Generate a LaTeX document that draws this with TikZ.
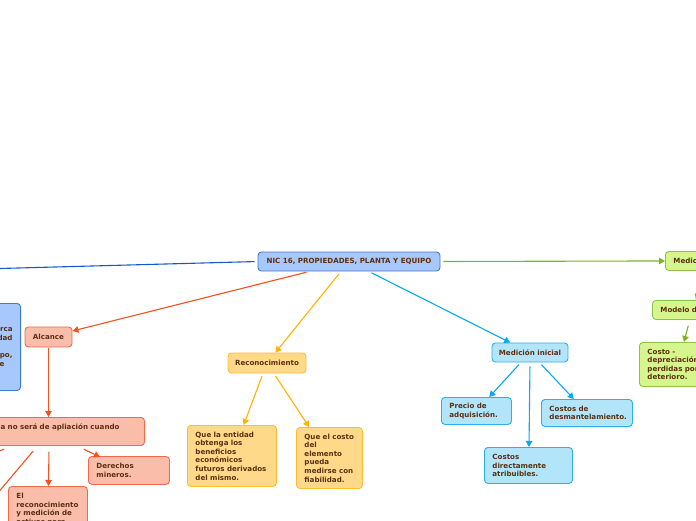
\documentclass[tikz,border=0pt]{standalone}
\usepackage{fontspec}
\setmainfont{DejaVu Sans}
\usetikzlibrary{arrows.meta,calc}
\definecolor{txt}{RGB}{92,48,16}
\definecolor{bfill}{RGB}{166,200,252}
\definecolor{bdraw}{RGB}{60,120,216}
\definecolor{bline}{RGB}{17,90,204}
\definecolor{sfill}{RGB}{249,189,170}
\definecolor{sdraw}{RGB}{243,106,75}
\definecolor{sline}{RGB}{244,81,30}
\definecolor{yfill}{RGB}{255,217,138}
\definecolor{ydraw}{RGB}{255,190,50}
\definecolor{yline}{RGB}{255,179,0}
\definecolor{cfill}{RGB}{178,228,250}
\definecolor{cdraw}{RGB}{41,176,238}
\definecolor{cline}{RGB}{3,169,244}
\definecolor{gfill}{RGB}{214,245,140}
\definecolor{gdraw}{RGB}{139,195,74}
\definecolor{gline}{RGB}{124,179,30}
\tikzset{
  mm/.style={draw, rounded corners=3.5pt, line width=0.9pt, text=txt,
    font=\fontsize{7.1}{8.6}\selectfont\bfseries, inner xsep=8pt, inner ysep=1pt},
  lft/.style={align=left, anchor=north west},
  bluebox/.style={mm, fill=bfill, draw=bdraw},
  salbox/.style={mm, fill=sfill, draw=sdraw},
  yelbox/.style={mm, fill=yfill, draw=ydraw},
  cyanbox/.style={mm, fill=cfill, draw=cdraw},
  grnbox/.style={mm, fill=gfill, draw=gdraw},
  conn/.style={line width=1.1pt, shorten <=3pt},
  arr/.style={conn, -{Triangle[length=6pt,width=6.5pt]}},
}
\begin{document}
\begin{tikzpicture}[x=1pt,y=-1pt]
\useasboundingbox (0,0) rectangle (696,520);
\clip (0,0) rectangle (696,520);

% root
\node[bluebox, minimum width=182pt, minimum height=19pt, inner xsep=0pt] (root) at (349,261.5)
  {NIC 16, PROPIEDADES, PLANTA Y EQUIPO};

% left (blue) branch
\coordinate (leftend) at (-100,271.2);
\node[bluebox, align=left, anchor=north east, text width=160pt, minimum height=87pt] (lblue) at (21,303)
  {Esta norma\hfill abarca\hspace*{4pt}\\
   la\hfill contabilidad\hspace*{5pt}\\
   de\\
   propiedad, planta y\hfill equipo,\hspace*{5pt}\\
   salvo cuando otra\hfill norma exige\hspace*{8pt}};

% salmon branch
\node[salbox, minimum width=47pt, minimum height=20pt, inner xsep=0pt] (alc) at (48.5,337) {Alcance};
\node[salbox, align=right, anchor=north east, text width=220pt, inner ysep=0pt,
      text height=11.8pt, text depth=16.2pt] (nosera) at (145,417)
  {Esta norma no será de apliación cuando\hspace*{17pt}};
\node[salbox, lft, text width=63pt, minimum height=46pt] (recmed) at (8,486)
  {El\\reconocimiento\\y medición de\\activos para};
\node[salbox, lft, text width=65pt, minimum height=28pt] (der) at (88,456)
  {Derechos\\mineros.};
\coordinate (off1) at (-60,475.7);
\coordinate (off2) at (-20,514);

% yellow branch
\node[yelbox, minimum width=78pt, minimum height=20pt, inner xsep=0pt] (recon) at (267,363) {Reconocimiento};
\node[yelbox, lft, text width=73pt, minimum height=61pt] (qle) at (187,425)
  {Que la entidad\\obtenga los\\beneficios\\económicos\\futuros derivados\\del mismo.};
\node[yelbox, lft, text width=53pt, inner xsep=6.5pt, minimum height=61pt] (qec) at (296,427)
  {\hspace*{1.5pt}Que el costo\\\hspace*{1.5pt}del\\\hspace*{1.5pt}elemento\\\hspace*{1.5pt}pueda\\\hspace*{1.5pt}medirse con\\\hspace*{1.5pt}fiabilidad.};

% cyan branch
\node[cyanbox, minimum width=76pt, minimum height=19pt, inner xsep=0pt] (medini) at (530,352.5) {Medición inicial};
\node[cyanbox, lft, text width=54pt, minimum height=27pt] (precio) at (441,397)
  {Precio de\\adquisición.};
\node[cyanbox, lft, text width=75pt, minimum height=27pt] (desm) at (541,399)
  {Costos de\\desmantelamiento.};
\node[cyanbox, lft, text width=72pt, minimum height=36pt] (cda) at (484,447)
  {Costos\\directamente\\atribuibles.};

% green branch
\node[grnbox, lft, text width=100pt, minimum height=19pt] (medic) at (665,251) {Medición posterior};
\node[grnbox, lft, text width=100pt, minimum height=19pt] (modelo) at (652,300) {Modelo del costo};
\node[grnbox, lft, text width=90pt, minimum height=44pt] (costo) at (639,342)
  {Costo -\\depreciación -\\perdidas por\\deterioro.};

% connectors
\draw[conn, bline] (root.west) -- (leftend);
\draw[arr, sline] (root) -- (alc);
\draw[arr, sline, shorten <=1pt] (alc.south) -- (alc.south |- nosera.north);
\draw[arr, sline] ($(nosera.south east)+(-96,3)$) -- (recmed.north -| 48.5,0);
\draw[arr, sline] ($(nosera.south east)+(-64,2)$) -- ($(der.north west)+(12,1)$);
\draw[conn, sline] ($(nosera.south east)+(-138,2)$) -- (off1);
\draw[conn, sline] ($(nosera.south east)+(-110,3)$) -- (off2);

\draw[arr, yline] (root) -- (recon);
\draw[arr, yline] (recon) -- (qle);
\draw[arr, yline] (recon) -- (qec);

\draw[arr, cline] (root) -- (medini);
\draw[arr, cline] (medini) -- (precio);
\draw[arr, cline] (medini) -- (desm);
\draw[arr, cline] ($(medini.south)+(0,1)$) -- ($(cda.north west)+(45,0)$);

\draw[arr, gline] (root.east) -- (medic.west);
\draw[arr, gline] ($(medic.south west)+(40,3)$) -- ($(modelo.north west)+(44,0)$);
\draw[arr, gline] ($(modelo.south west)+(37,3)$) -- ($(costo.north west)+(45,0)$);
\end{tikzpicture}
\end{document}
